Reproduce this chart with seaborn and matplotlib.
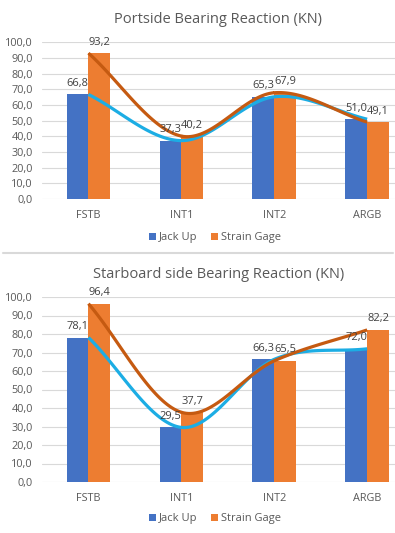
import numpy as np
import pandas as pd
import matplotlib
matplotlib.use("Agg")
import matplotlib.pyplot as plt
from matplotlib.lines import Line2D
from matplotlib.patches import Patch
import seaborn as sns

categories = ["FSTB", "INT1", "INT2", "ARGB"]
series_names = ["Jack Up", "Strain Gage"]
port_jack = [66.8, 37.3, 65.3, 51.0]
port_strain = [93.2, 40.2, 67.9, 49.1]
stbd_jack = [78.1, 29.5, 66.3, 72.0]
stbd_strain = [96.4, 37.7, 65.5, 82.2]
titles = ["Portside Bearing Reaction (KN)", "Starboard side Bearing Reaction (KN)"]

BAR_COLORS = ["#4472C4", "#ED7D31"]
LINE_COLORS = ["#1CADE4", "#C55A11"]
GRID = "#D9D9D9"
TXT = "#595959"

sns.set_theme(style="white")
plt.rcParams["font.family"] = ["Open Sans", "DejaVu Sans"]


def smooth(y, n=40):
    # catmull-rom style curve through the points (like excel smoothed line)
    y = np.asarray(y, float)
    x = np.arange(len(y), dtype=float)
    px = np.concatenate([[2 * x[0] - x[1]], x, [2 * x[-1] - x[-2]]])
    py = np.concatenate([[2 * y[0] - y[1]], y, [2 * y[-1] - y[-2]]])
    xs, ys = [], []
    t = np.linspace(0, 1, n)
    for i in range(1, len(px) - 2):
        p0, p1, p2, p3 = px[i - 1], px[i], px[i + 1], px[i + 2]
        q0, q1, q2, q3 = py[i - 1], py[i], py[i + 1], py[i + 2]
        for arr, a0, a1, a2, a3 in ((xs, p0, p1, p2, p3), (ys, q0, q1, q2, q3)):
            arr.append(0.5 * (2 * a1 + (-a0 + a2) * t
                              + (2 * a0 - 5 * a1 + 4 * a2 - a3) * t ** 2
                              + (-a0 + 3 * a1 - 3 * a2 + a3) * t ** 3))
    return np.concatenate(xs), np.concatenate(ys)


def draw_panel(ax, jack, strain, title):
    df = pd.DataFrame({
        "cat": categories * 2,
        "series": [series_names[0]] * 4 + [series_names[1]] * 4,
        "val": jack + strain,
    })
    sns.barplot(data=df, x="cat", y="val", hue="series", order=categories,
                hue_order=series_names, palette=BAR_COLORS, width=0.47,
                saturation=1, legend=False, ax=ax, zorder=2,
                linewidth=0, edgecolor="none")
    for vals, col in zip([jack, strain], LINE_COLORS):
        sx, sy = smooth(vals)
        ax.plot(sx, sy, color=col, lw=2.3, zorder=3, solid_capstyle="butt")
    for vals, off in zip([jack, strain], [-0.1175, 0.1175]):
        for i, v in enumerate(vals):
            ax.annotate(f"{v:.1f}".replace(".", ","), (i + off, v),
                        xytext=(0, 4), textcoords="offset points",
                        ha="center", va="bottom", fontsize=8, color="#404040",
                        zorder=4)
    ax.set_ylim(0, 100)
    ax.set_xlim(-0.5, 3.3)
    ax.set_yticks(np.arange(0, 101, 10))
    ax.set_yticklabels([f"{v:.1f}".replace(".", ",") for v in np.arange(0, 101, 10)])
    ax.yaxis.grid(True, color=GRID, lw=0.8, zorder=0)
    ax.set_axisbelow(True)
    for s in ax.spines.values():
        s.set_visible(False)
    ax.tick_params(axis="both", length=0, labelsize=7.8, labelcolor=TXT)
    ax.tick_params(axis="y", pad=6.5)
    ax.tick_params(axis="x", pad=8)
    ax.set_xlabel("")
    ax.set_ylabel("")
    ax.set_title(title, fontsize=10.5, color=TXT, pad=14)


W, H = 395, 533
fig = plt.figure(figsize=(W / 100, H / 100), dpi=100)
fig.patch.set_facecolor("white")

ax1 = fig.add_axes([42 / W, 1 - 199 / H, (395 - 42) / W, 156.5 / H])
ax2 = fig.add_axes([42 / W, 1 - 482 / H, (395 - 42) / W, 185 / H])
draw_panel(ax1, port_jack, port_strain, titles[0])
draw_panel(ax2, stbd_jack, stbd_strain, titles[1])

handles = [Patch(facecolor=c, edgecolor="none") for c in BAR_COLORS]
for y in [1 - 238 / H, 1 - 519 / H]:
    fig.legend(handles, series_names, loc="center", bbox_to_anchor=(215 / W, y),
               ncol=2, frameon=False, fontsize=8, labelcolor=TXT,
               handlelength=0.6, handleheight=0.6, handletextpad=0.3,
               columnspacing=1.2)

fig.add_artist(Line2D([3 / W, 393 / W], [1 - 253 / H, 1 - 253 / H],
                      color=GRID, lw=1.5))

fig.savefig("out.png", dpi=100)
